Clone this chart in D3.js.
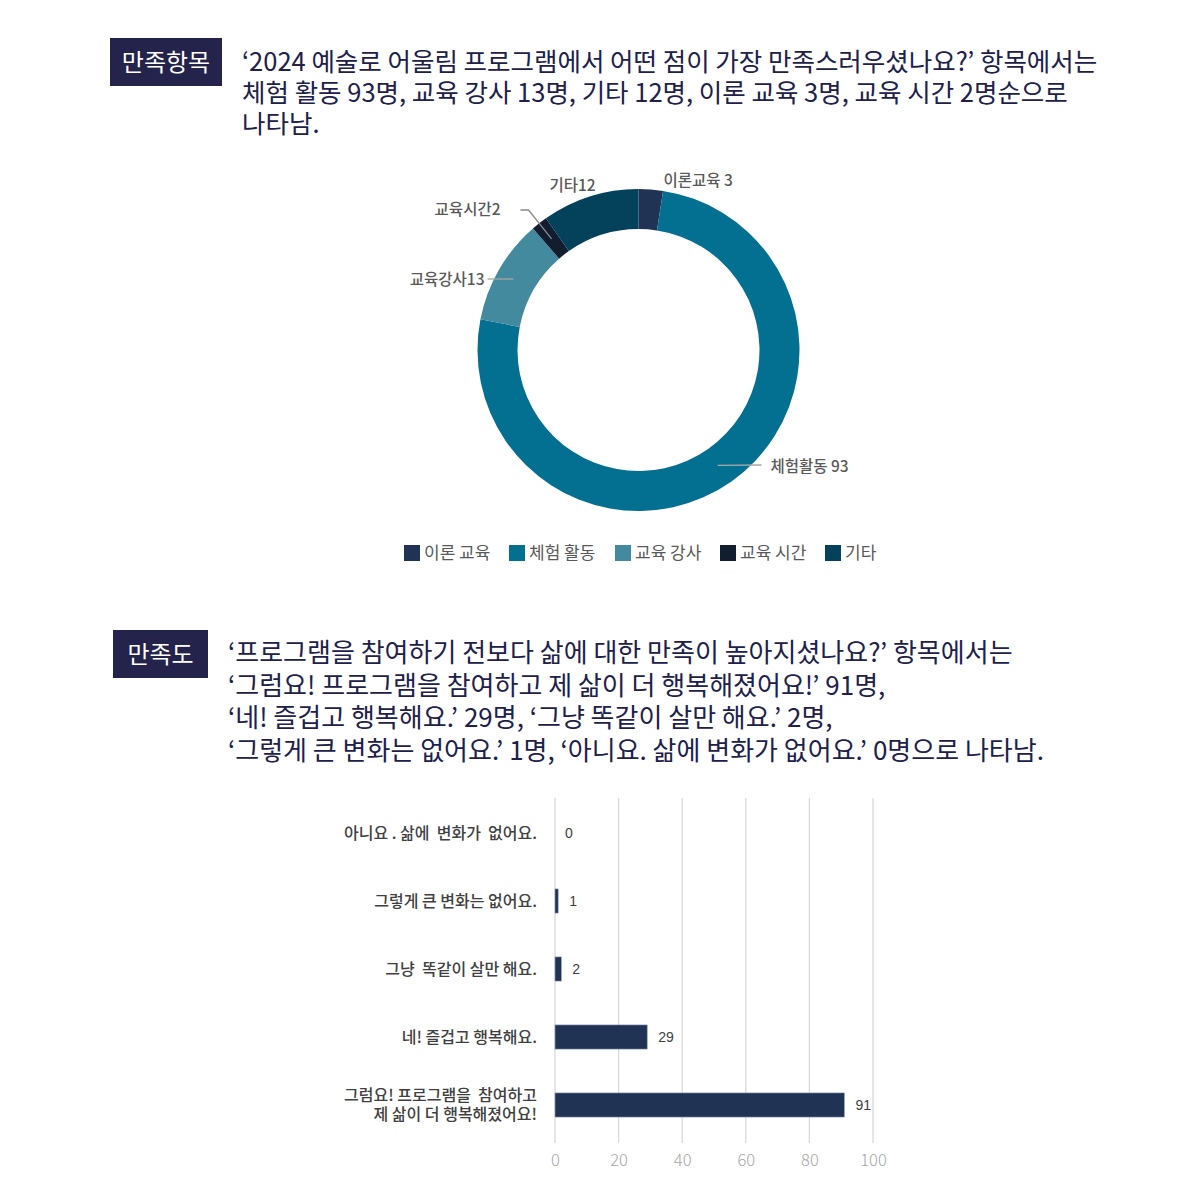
<!DOCTYPE html>
<html><head><meta charset="utf-8">
<script src="https://cdn.jsdelivr.net/npm/d3@7"></script>
<style>
body{margin:0;background:#fff;}
svg{display:block;font-family:"Noto Sans CJK KR","Noto Sans",sans-serif;}
</style></head>
<body>
<svg id="c" width="1200" height="1200"></svg>
<script>
// ---- data ----
const donutCategories = ["이론 교육","체험 활동","교육 강사","교육 시간","기타"];
const donutValues = [3, 93, 13, 2, 12];
const donutLabels = ["이론교육 3","체험활동 93","교육강사13","교육시간2","기타12"];
const donutColors = ["#203354","#036f91","#438a9e","#121d30","#03425a"];

const barCategories = ["아니요 . 삶에  변화가  없어요.","그렇게 큰 변화는 없어요.","그냥  똑같이 살만 해요.","네! 즐겁고 행복해요.","그럼요! 프로그램을  참여하고\n제 삶이 더 행복해졌어요!"];
const barValues = [0, 1, 2, 29, 91];
const barTicks = [0, 20, 40, 60, 80, 100];

const title1Lines = ["‘2024 예술로 어울림 프로그램에서 어떤 점이 가장 만족스러우셨나요?’ 항목에서는","체험 활동 93명, 교육 강사 13명, 기타 12명, 이론 교육 3명, 교육 시간 2명순으로","나타남."];
const title2Lines = ["‘프로그램을 참여하기 전보다 삶에 대한 만족이 높아지셨나요?’ 항목에서는","‘그럼요! 프로그램을 참여하고 제 삶이 더 행복해졌어요!’ 91명,","‘네! 즐겁고 행복해요.’ 29명, ‘그냥 똑같이 살만 해요.’ 2명,","‘그렇게 큰 변화는 없어요.’ 1명, ‘아니요. 삶에 변화가 없어요.’ 0명으로 나타남."];

const svg = d3.select("#c");
const navy = "#23234b";

// ---- headers ----
function header(x, y, w, h, label, lines, tx, ty0, dy, fs) {
  svg.append("rect").attr("x", x).attr("y", y).attr("width", w).attr("height", h).attr("fill", navy);
  svg.append("text").attr("x", x + w/2).attr("y", y + h/2).attr("dy", "0.36em")
    .attr("text-anchor", "middle").attr("fill", "#fff").attr("font-size", 24).text(label);
  const t = svg.append("text").attr("x", tx).attr("y", ty0)
    .attr("fill", "#20204a").attr("font-size", fs).attr("font-weight", 400)
    .style("white-space", "pre");
  t.selectAll("tspan").data(lines).join("tspan")
    .attr("x", tx).attr("y", (d,i) => ty0 + i*dy + fs*0.36)
    .text(d => d);
}
header(110, 38, 112, 48, "만족항목", title1Lines, 242, 62, 31, 25.5);
header(113, 630, 95, 48, "만족도", title2Lines, 228, 653, 32.5, 26);

// ---- donut ----
const cx = 638.5, cy = 350, rOut = 161, rIn = 121;
const pie = d3.pie().sort(null).value(d => d)(donutValues);
const arc = d3.arc().innerRadius(rIn).outerRadius(rOut);
const dg = svg.append("g").attr("transform", `translate(${cx},${cy})`);
dg.selectAll("path").data(pie).join("path")
  .attr("d", arc).attr("fill", (d,i) => donutColors[i]);

const midR = (rIn + rOut)/2;
const labelCfg = [
  {tx: 25, ty: -170, anchor: "start", line: false},
  {tx: 132, ty: 116, anchor: "start", line: true, lx: 127},
  {tx: -154, ty: -71, anchor: "end", line: true, lx: -151},
  {tx: -138, ty: -141, anchor: "end", line: true, lx: -118},
  {tx: -66, ty: -165, anchor: "middle", line: false}
];
pie.forEach((p, i) => {
  const c = labelCfg[i];
  const a = (p.startAngle + p.endAngle)/2;
  const px = Math.sin(a)*midR, py = -Math.cos(a)*midR;
  if (c.line) {
    let pts;
    if (i === 3) pts = [[c.lx, c.ty+1],[c.lx+8, c.ty+1],[px, py]];
    if (i === 1) pts = [[c.lx-4, c.ty-1],[px-2, py]];
    if (i === 2) pts = [[c.lx, c.ty],[px - 3, c.ty]];
    dg.append("path").attr("d", d3.line()(pts)).attr("fill", "none")
      .attr("stroke", i===3 ? "#8a8a8a" : "#a6a6a6").attr("stroke-width", 1.3);
  }
  dg.append("text").attr("x", c.tx).attr("y", c.ty).attr("dy", "0.36em")
    .attr("text-anchor", c.anchor).attr("font-size", 15.5).attr("font-weight", 500)
    .attr("fill", "#595959").text(donutLabels[i]);
});

// legend
const legX = [404, 509, 615, 720, 825];
const lg = svg.append("g");
donutCategories.forEach((name, i) => {
  lg.append("rect").attr("x", legX[i]).attr("y", 545).attr("width", 16).attr("height", 16).attr("fill", donutColors[i]);
  lg.append("text").attr("x", legX[i] + 20).attr("y", 553).attr("dy", "0.36em")
    .attr("font-size", 17).attr("fill", "#595959").text(name);
});

// ---- bar chart ----
const x = d3.scaleLinear().domain([0, 100]).range([555, 873]);
const y = d3.scaleBand().domain(barCategories).range([799, 1139]).paddingInner(0.645).paddingOuter(0.3225);
const gridTop = 798, gridBot = 1143;
svg.append("g").selectAll("line").data(barTicks).join("line")
  .attr("x1", d => x(d)).attr("x2", d => x(d)).attr("y1", gridTop).attr("y2", gridBot)
  .attr("stroke", "#d9d9d9").attr("stroke-width", 1.3);

const xAxis = svg.append("g").attr("transform", `translate(0,${gridBot})`)
  .call(d3.axisBottom(x).tickValues(barTicks).tickSize(0).tickPadding(11));
xAxis.select(".domain").remove();
xAxis.selectAll("text").attr("font-size", 16.5).attr("fill", "#a6a6a6")
  .attr("font-family", "'Noto Sans CJK KR','Noto Sans',sans-serif").attr("font-weight", 300);

svg.append("g").selectAll("rect").data(barValues).join("rect")
  .attr("x", x(0)).attr("y", (d,i) => y(barCategories[i]))
  .attr("width", d => x(d) - x(0)).attr("height", y.bandwidth())
  .attr("fill", "#203354").attr("stroke", d => d > 0 ? "#8fa0b8" : "none").attr("stroke-width", 0.6);

svg.append("g").selectAll("text").data(barValues).join("text")
  .attr("x", d => x(d) + (d === 0 ? 10 : 11)).attr("y", (d,i) => y(barCategories[i]) + y.bandwidth()/2)
  .attr("dy", "0.36em").attr("font-size", 14).attr("fill", "#404040")
  .attr("font-family", "'Liberation Sans','Noto Sans',sans-serif")
  .text(d => d);

const cl = svg.append("g");
barCategories.forEach((name, i) => {
  const lines = name.split("\n");
  const yc = y(name) + y.bandwidth()/2;
  const t = cl.append("text").attr("text-anchor", "end")
    .attr("font-size", 16).attr("font-weight", 500).attr("fill", "#404040")
    .style("white-space", "pre");
  lines.forEach((ln, j) => {
    t.append("tspan").attr("x", 537)
      .attr("y", yc + (j - (lines.length-1)/2) * 19 + 16*0.36)
      .text(ln);
  });
});
</script>
</body></html>
